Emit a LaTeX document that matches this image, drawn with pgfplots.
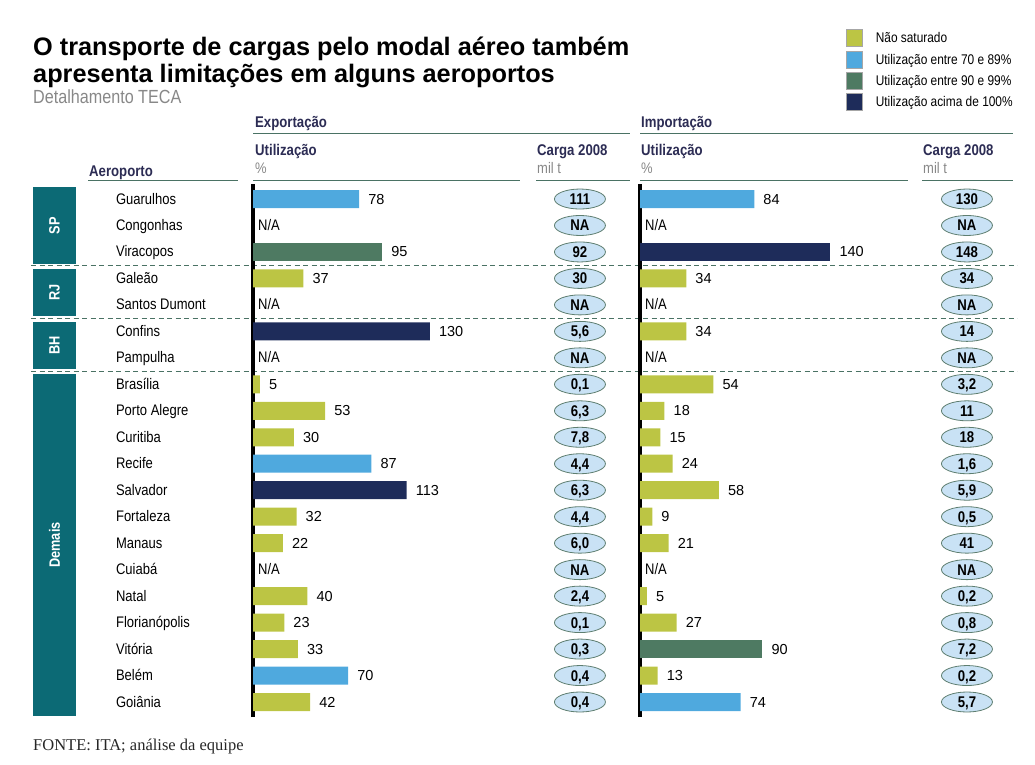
\documentclass[border=0pt]{standalone}
\usepackage{fontspec}
\setmainfont{Liberation Sans}
\newfontfamily\cond[FakeStretch=0.85]{Liberation Sans}
\newfontfamily\serifff{Liberation Serif}
\usepackage{pgfplots}
\usepackage{pgfplotstable}
\pgfplotsset{compat=1.18}
\usetikzlibrary{shapes.geometric}
\definecolor{cY}{HTML}{BCC544}
\definecolor{cB}{HTML}{4FA9DE}
\definecolor{cG}{HTML}{4E7A62}
\definecolor{cN}{HTML}{1E2C5A}
\definecolor{tealbox}{HTML}{0C6A75}
\definecolor{ellF}{HTML}{C9E2F5}
\definecolor{ellD}{HTML}{5E7E70}
\definecolor{hdr}{HTML}{2C2C54}
\definecolor{lineG}{HTML}{4A7264}
\definecolor{greyT}{HTML}{888888}
\newcommand\valfont{\fontsize{14.5}{17}\selectfont}
\newcommand\rowfont{\cond\fontsize{15.3}{18}\selectfont}
\newcommand\hdrfont{\cond\bfseries\fontsize{15.5}{18}\selectfont}

\pgfplotsset{
  chartax/.style={
    scale only axis, width=377pt, height=533pt,
    xmin=0, xmax=277.2, ymin=-19.567, ymax=0.567,
    axis x line=none, axis y line=left,
    axis line style={line width=3.5pt, black, -},
    ytick style={draw=none}, xtick=\empty,
    clip=false, anchor=north west,
    /pgf/number format/assume math mode=true,
  },
  barp/.style={xbar, bar width=18pt, bar shift=0pt, draw=none, fill=#1, forget plot,
    nodes near coords,
    every node near coord/.append style={anchor=west, inner sep=0pt, xshift=9pt, font=\valfont, text=black, text height=12pt, text depth=2pt}},
  nap/.style={only marks, mark=none, forget plot, nodes near coords, point meta=explicit symbolic,
    every node near coord/.append style={anchor=west, inner sep=0pt, xshift=5pt, font=\rowfont, text=black, text height=12pt, text depth=2pt}},
  ellp/.style={only marks, mark=none, forget plot, nodes near coords, point meta=explicit symbolic,
    every node near coord/.append style={ellipse, draw=ellD, fill=ellF, line width=0.8pt,
      minimum width=51pt, minimum height=20pt, inner sep=0pt, anchor=center,
      text height=11pt, text depth=0pt,
      font=\cond\bfseries\fontsize{15.5}{18}\selectfont, text=black}},
  legsq/.style={legend image code/.code={\draw[##1, draw=gray!70, line width=0.8pt] (0pt,-8pt) rectangle (16pt,9pt); \path (29pt,0pt);}},
}

\pgfplotstableread{
x y carga
240.4 0 111
240.4 -1 NA
240.4 -2 92
240.4 -3 30
240.4 -4 NA
240.4 -5 5,6
240.4 -6 NA
240.4 -7 0,1
240.4 -8 6,3
240.4 -9 7,8
240.4 -10 4,4
240.4 -11 6,3
240.4 -12 4,4
240.4 -13 6,0
240.4 -14 NA
240.4 -15 2,4
240.4 -16 0,1
240.4 -17 0,3
240.4 -18 0,4
240.4 -19 0,4
}\expcarga

\pgfplotstableread{
x y carga
240.4 0 130
240.4 -1 NA
240.4 -2 148
240.4 -3 34
240.4 -4 NA
240.4 -5 14
240.4 -6 NA
240.4 -7 3,2
240.4 -8 11
240.4 -9 18
240.4 -10 1,6
240.4 -11 5,9
240.4 -12 0,5
240.4 -13 41
240.4 -14 NA
240.4 -15 0,2
240.4 -16 0,8
240.4 -17 7,2
240.4 -18 0,2
240.4 -19 5,7
}\impcarga

\begin{document}
\begin{tikzpicture}
\useasboundingbox (0,0) rectangle (1035pt,-764pt);

\begin{scope}[x=1pt,y=-1pt]
% title
\node[anchor=base west, inner sep=0pt, font=\bfseries\fontsize{25.3}{30}\selectfont] at (33,55) {O transporte de cargas pelo modal aéreo também};
\node[anchor=base west, inner sep=0pt, font=\bfseries\fontsize{25.3}{30}\selectfont] at (33,82) {apresenta limitações em alguns aeroportos};
\node[anchor=base west, inner sep=0pt, text=greyT, font=\cond\fontsize{19}{21}\selectfont] at (33,103) {Detalhamento TECA};
% group boxes
\fill[tealbox] (33,187) rectangle (76,264);
\fill[tealbox] (33,269) rectangle (76,316);
\fill[tealbox] (33,322) rectangle (76,369);
\fill[tealbox] (33,374) rectangle (76,716);
\node[rotate=90, text=white, font=\cond\bfseries\fontsize{15}{17}\selectfont] at (54.5,225.5) {SP};
\node[rotate=90, text=white, font=\cond\bfseries\fontsize{15}{17}\selectfont] at (54.5,292.5) {RJ};
\node[rotate=90, text=white, font=\cond\bfseries\fontsize{15}{17}\selectfont] at (54.5,345.5) {BH};
\node[rotate=90, text=white, font=\cond\bfseries\fontsize{15}{17}\selectfont] at (54.5,545) {Demais};
% separators
\foreach \yy in {265,318,371} \draw[lineG, line width=1pt, dash pattern=on 5pt off 3.5pt] (31,\yy)--(1017,\yy);
% headers
\node[anchor=base west, inner sep=0pt, text=hdr, font=\hdrfont] at (89,176) {Aeroporto};
\draw[lineG, line width=1pt] (88,180)--(238,180);
\node[anchor=base west, inner sep=0pt, text=hdr, font=\hdrfont] at (255,127) {Exportação};
\draw[lineG, line width=1pt] (253,133)--(630,133);
\node[anchor=base west, inner sep=0pt, text=hdr, font=\hdrfont] at (255,155) {Utilização};
\node[anchor=base west, inner sep=0pt, text=greyT, font=\rowfont] at (255,173) {\%};
\node[anchor=base west, inner sep=0pt, text=hdr, font=\hdrfont] at (537,155) {Carga 2008};
\node[anchor=base west, inner sep=0pt, text=greyT, font=\rowfont] at (537,173) {mil t};
\draw[lineG, line width=1pt] (253,180)--(520,180);
\draw[lineG, line width=1pt] (536,180)--(630,180);
\node[anchor=base west, inner sep=0pt, text=hdr, font=\hdrfont] at (641,127) {Importação};
\draw[lineG, line width=1pt] (640,133)--(1013,133);
\node[anchor=base west, inner sep=0pt, text=hdr, font=\hdrfont] at (641,155) {Utilização};
\node[anchor=base west, inner sep=0pt, text=greyT, font=\rowfont] at (641,173) {\%};
\node[anchor=base west, inner sep=0pt, text=hdr, font=\hdrfont] at (923,155) {Carga 2008};
\node[anchor=base west, inner sep=0pt, text=greyT, font=\rowfont] at (923,173) {mil t};
\draw[lineG, line width=1pt] (640,180)--(908,180);
\draw[lineG, line width=1pt] (922,180)--(1013,180);
% footer
\node[anchor=base west, inner sep=0pt, font=\serifff\fontsize{16.5}{18}\selectfont, text=black!85] at (33,750) {FONTE: ITA; análise da equipe};
\end{scope}

% ---------------- Exportação ----------------
\begin{axis}[chartax, at={(253pt,-184pt)},
  ytick={0,-1,...,-19},
  yticklabels={Guarulhos,Congonhas,Viracopos,Galeão,Santos Dumont,Confins,Pampulha,Brasília,Porto Alegre,Curitiba,Recife,Salvador,Fortaleza,Manaus,Cuiabá,Natal,Florianópolis,Vitória,Belém,Goiânia},
  yticklabel style={anchor=west, inner sep=0pt, xshift=-135pt, font=\rowfont, text=black, text height=12pt, text depth=2pt},
  legend style={at={(1.5729,1.2908)}, anchor=north west, draw=none, fill=none, inner sep=0pt,
    row sep=3.5pt, nodes={inner sep=0pt}, font=\cond\fontsize{14}{16}\selectfont},
  legend cell align=left,
]
\addlegendimage{legsq, fill=cY}\addlegendentry{Não saturado}
\addlegendimage{legsq, fill=cB}\addlegendentry{Utilização entre 70 e 89\%}
\addlegendimage{legsq, fill=cG}\addlegendentry{Utilização entre 90 e 99\%}
\addlegendimage{legsq, fill=cN}\addlegendentry{Utilização acima de 100\%}
\addplot[barp=cY] coordinates {(37,-3) (5,-7) (53,-8) (30,-9) (32,-12) (22,-13) (40,-15) (23,-16) (33,-17) (42,-19)};
\addplot[barp=cB] coordinates {(78,0) (87,-10) (70,-18)};
\addplot[barp=cG] coordinates {(95,-2)};
\addplot[barp=cN] coordinates {(130,-5) (113,-11)};
\addplot[nap] coordinates {(0,-1) [N/A] (0,-4) [N/A] (0,-6) [N/A] (0,-14) [N/A]};
\addplot[ellp] table[x=x, y=y, meta=carga] {\expcarga};
\end{axis}

% ---------------- Importação ----------------
\begin{axis}[chartax, at={(640pt,-184pt)}, ytick=\empty]
\addplot[barp=cY] coordinates {(34,-3) (34,-5) (54,-7) (18,-8) (15,-9) (24,-10) (58,-11) (9,-12) (21,-13) (5,-15) (27,-16) (13,-18)};
\addplot[barp=cB] coordinates {(84,0) (74,-19)};
\addplot[barp=cG] coordinates {(90,-17)};
\addplot[barp=cN] coordinates {(140,-2)};
\addplot[nap] coordinates {(0,-1) [N/A] (0,-4) [N/A] (0,-6) [N/A] (0,-14) [N/A]};
\addplot[ellp] table[x=x, y=y, meta=carga] {\impcarga};
\end{axis}
\end{tikzpicture}
\end{document}
